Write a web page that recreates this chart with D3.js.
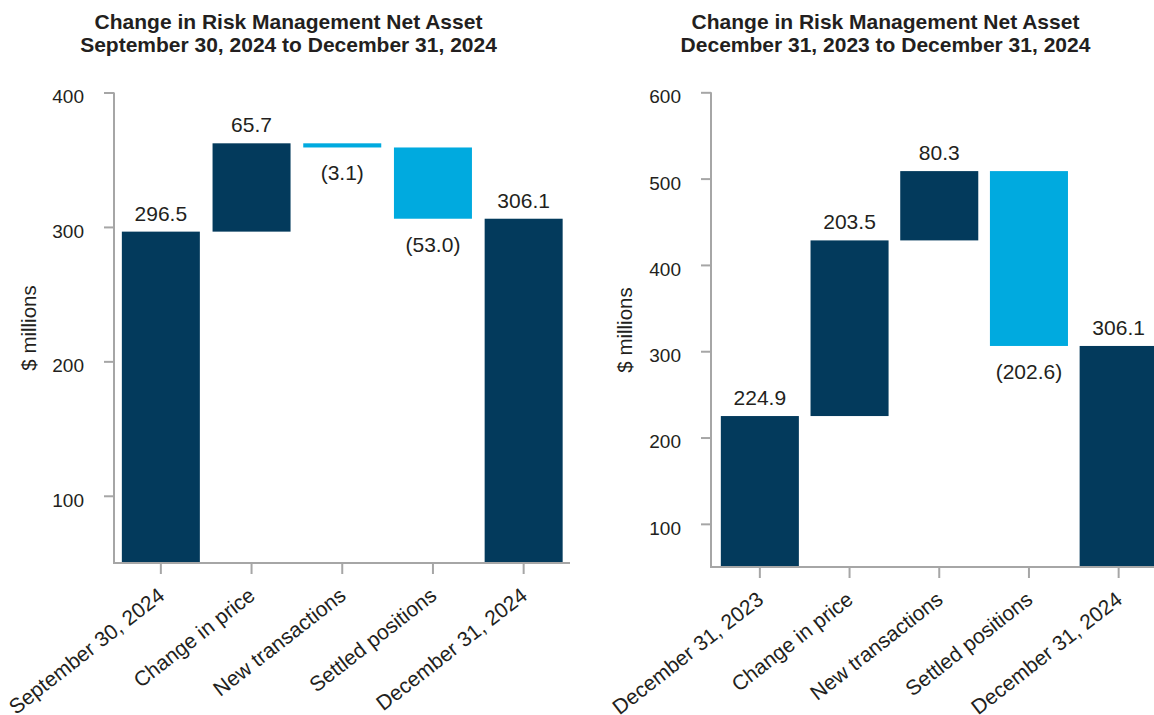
<!DOCTYPE html>
<html>
<head>
<meta charset="utf-8">
<script src="https://cdn.jsdelivr.net/npm/d3@7"></script>
<style>
  html, body { margin: 0; padding: 0; background: #ffffff; }
  svg { display: block; font-family: "Liberation Sans", Arial, Helvetica, sans-serif; }
</style>
</head>
<body>
<svg id="chart" width="1154" height="715"></svg>
<script>
// ---------- DATA ----------
const leftTitle = ["Change in Risk Management Net Asset", "September 30, 2024 to December 31, 2024"];
const leftCategories = ["September 30, 2024", "Change in price", "New transactions", "Settled positions", "December 31, 2024"];
const leftValues = [296.5, 65.7, -3.1, -53.0, 306.1];
const leftTypes = ["total", "delta", "delta", "delta", "total"];
const leftTicks = [100, 200, 300, 400];

const rightTitle = ["Change in Risk Management Net Asset", "December 31, 2023 to December 31, 2024"];
const rightCategories = ["December 31, 2023", "Change in price", "New transactions", "Settled positions", "December 31, 2024"];
const rightValues = [224.9, 203.5, 80.3, -202.6, 306.1];
const rightTypes = ["total", "delta", "delta", "delta", "total"];
const rightTicks = [100, 200, 300, 400, 500, 600];

const yAxisTitle = "$ millions";

// ---------- STYLE ----------
const DARK = "#033a5c";
const LIGHT = "#00aadf";
const AXIS = "#a6a6a6";
const TEXT = "#231f20";

const svg = d3.select("#chart");

function fmt(v) {
  return v < 0 ? "(" + Math.abs(v).toFixed(1) + ")" : v.toFixed(1);
}

function drawPanel(cfg) {
  const g = svg.append("g");

  // build waterfall segments
  let running = 0;
  const segs = cfg.values.map((v, i) => {
    let lo, hi;
    if (cfg.types[i] === "total") {
      lo = cfg.domain[0]; hi = v; running = v;
    } else {
      const start = running; running = running + v;
      lo = Math.min(start, running); hi = Math.max(start, running);
    }
    return { cat: cfg.categories[i], v, lo, hi, type: cfg.types[i] };
  });

  const x = d3.scaleBand().domain(cfg.categories).range(cfg.xRange)
    .paddingInner(cfg.padIn).paddingOuter(cfg.padOut);
  const y = d3.scaleLinear().domain(cfg.domain).range(cfg.yRange);

  // bars
  g.selectAll("rect.bar").data(segs).enter().append("rect")
    .attr("class", "bar")
    .attr("x", d => x(d.cat))
    .attr("width", x.bandwidth())
    .attr("y", d => y(d.hi))
    .attr("height", d => y(d.lo) - y(d.hi))
    .attr("fill", d => d.v < 0 ? LIGHT : DARK);

  // value labels
  g.selectAll("text.val").data(segs).enter().append("text")
    .attr("class", "val")
    .attr("x", d => x(d.cat) + x.bandwidth() / 2)
    .attr("y", d => d.v < 0 ? y(d.lo) + 33 : y(d.hi) - 11)
    .attr("text-anchor", "middle")
    .attr("font-size", 21)
    .attr("fill", TEXT)
    .text(d => fmt(d.v));

  // y axis
  const yAxis = g.append("g")
    .attr("transform", `translate(${cfg.axisX},0)`)
    .call(d3.axisLeft(y).tickValues(cfg.ticks).tickSize(10).tickPadding(20).tickSizeOuter(0));
  yAxis.select(".domain").remove();
  yAxis.selectAll(".tick line").attr("stroke", AXIS).attr("stroke-width", 2);
  yAxis.selectAll(".tick text").attr("font-size", 19).attr("fill", TEXT)
    .attr("font-family", "Liberation Sans, Arial, sans-serif").attr("dy", "0.55em");

  // x axis
  const xAxis = g.append("g")
    .attr("transform", `translate(0,${cfg.yRange[0]})`)
    .call(d3.axisBottom(x).tickSize(11).tickSizeOuter(0));
  xAxis.select(".domain").remove();
  xAxis.selectAll(".tick line").attr("stroke", AXIS).attr("stroke-width", 2);
  xAxis.selectAll(".tick text")
    .attr("font-size", 21).attr("fill", TEXT)
    .attr("font-family", "Liberation Sans, Arial, sans-serif")
    .attr("text-anchor", "end")
    .attr("x", 0).attr("y", 0).attr("dy", 0)
    .attr("transform", "translate(5,35) rotate(-38)");

  // axis lines
  g.append("line")
    .attr("x1", cfg.axisX).attr("x2", cfg.axisX)
    .attr("y1", y(cfg.domain[1])).attr("y2", cfg.yRange[0] + 1)
    .attr("stroke", AXIS).attr("stroke-width", 2);
  g.append("line")
    .attr("x1", cfg.axisX - 1).attr("x2", cfg.xAxisEnd)
    .attr("y1", cfg.yRange[0]).attr("y2", cfg.yRange[0])
    .attr("stroke", AXIS).attr("stroke-width", 2);

  // y axis title
  g.append("text")
    .attr("transform", `translate(${cfg.yTitleX},${cfg.yTitleY}) rotate(-90)`)
    .attr("text-anchor", "middle")
    .attr("font-size", 20.5)
    .attr("fill", TEXT)
    .text(yAxisTitle);

  // chart title
  const t = g.append("text")
    .attr("text-anchor", "middle")
    .attr("font-size", 21)
    .attr("font-weight", "bold")
    .attr("fill", TEXT);
  cfg.title.forEach((line, i) => {
    t.append("tspan").attr("x", cfg.titleX).attr("y", 29 + i * 23).text(line);
  });
}

drawPanel({
  title: leftTitle, categories: leftCategories, values: leftValues, types: leftTypes,
  ticks: leftTicks, domain: [50, 400], yRange: [563, 92.5],
  xRange: [115.5, 569], padIn: 0.14, padOut: 0.07,
  axisX: 114, xAxisEnd: 570, yTitleX: 36, yTitleY: 328, titleX: 288.5
});

drawPanel({
  title: rightTitle, categories: rightCategories, values: rightValues, types: rightTypes,
  ticks: rightTicks, domain: [50, 600], yRange: [567, 92.3],
  xRange: [715, 1163.5], padIn: 0.13, padOut: 0.065,
  axisX: 711, xAxisEnd: 1154, yTitleX: 632, yTitleY: 330, titleX: 885.5
});
</script>
</body>
</html>
